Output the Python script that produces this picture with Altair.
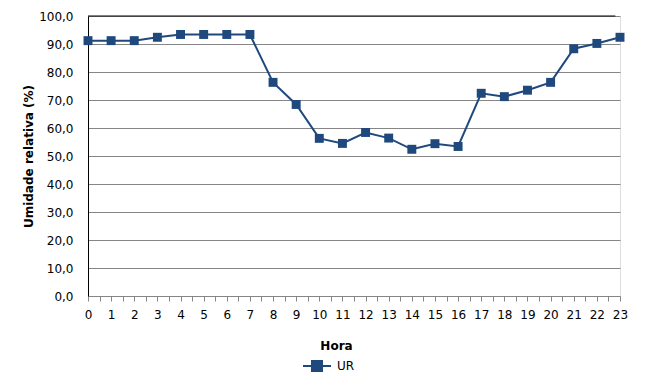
import altair as alt
import pandas as pd

hours = list(range(24))
ur = [91.2, 91.2, 91.2, 92.4, 93.4, 93.4, 93.4, 93.4, 76.3, 68.4, 56.3, 54.5,
      58.4, 56.4, 52.4, 54.4, 53.4, 72.4, 71.2, 73.5, 76.3, 88.3, 90.2, 92.4]
series = ["UR"] * 24

df = pd.DataFrame({"Hora": hours, "UR": ur, "serie": series})

COLOR = "#1F497D"
FONT = "DejaVu Sans"
half_ticks = [i / 2 for i in range(47)]

x_scale = alt.Scale(domain=[0, 23], nice=False, zero=False)
y_scale = alt.Scale(domain=[0, 100], nice=False)

x_axis = alt.Axis(
    values=half_ticks,
    labelExpr="datum.value % 1 == 0 ? format(datum.value, 'd') : ''",
    grid=False, domainColor="#868686", tickColor="#868686", tickSize=5,
    labelFont=FONT, labelFontSize=12, labelColor="#000000", labelPadding=8,
    labelFlush=False, labelOverlap=False,
    title="Hora", titleFont=FONT, titleFontSize=12, titleFontWeight="bold",
    titleColor="#000000", titleX=248, titleY=49, titleBaseline="middle",
)
y_axis = alt.Axis(
    values=list(range(0, 101, 10)),
    labelExpr="replace(format(datum.value, '.1f'), '.', ',')",
    grid=True, gridColor="#868686", gridWidth=1,
    domainColor="#000000", ticks=False, labelPadding=15, labelOverlap=False,
    labelFont=FONT, labelFontSize=12, labelColor="#000000",
    title="Umidade relativa (%)", titleFont=FONT, titleFontSize=12,
    titleFontWeight="bold", titleColor="#000000", titleX=-60, titleY=140,
    titleBaseline="middle", titleAlign="center", titleAngle=-90,
)

legend = alt.Legend(
    title=None, orient="none", legendX=214, legendY=335,
    symbolType="M-1,0H1M-0.36,-0.36H0.36V0.36H-0.36Z",
    symbolSize=784, symbolStrokeWidth=2, symbolFillColor=COLOR,
    symbolStrokeColor=COLOR, labelFont=FONT, labelFontSize=12,
    labelColor="#000000", labelOffset=5,
)

base = alt.Chart(df)
line = base.mark_line(strokeWidth=2, clip=False).encode(
    x=alt.X("Hora:Q", scale=x_scale, axis=x_axis),
    y=alt.Y("UR:Q", scale=y_scale, axis=y_axis),
    color=alt.Color("serie:N", scale=alt.Scale(domain=["UR"], range=[COLOR]), legend=legend),
)
points = base.mark_point(shape="square", filled=True, size=80, opacity=1, color=COLOR, clip=False).encode(
    x=alt.X("Hora:Q", scale=x_scale, axis=x_axis),
    y=alt.Y("UR:Q", scale=y_scale, axis=y_axis),
)
top = alt.Chart(pd.DataFrame({"a": [0]})).mark_rule(color="#000000", strokeWidth=1).encode(
    y=alt.Y(datum=100, scale=y_scale, axis=y_axis),
    x=alt.X(datum=0, scale=x_scale, axis=x_axis),
    x2=alt.datum(22.8),
)

chart = alt.layer(line, points, top).properties(
    width=532, height=280,
    autosize=alt.AutoSizeParams(type="none"),
    padding={"left": 80, "top": 8, "right": 34, "bottom": 83},
).configure_view(stroke="#868686", strokeWidth=1).configure(background="white")

chart.save("out.html", embed_options={"renderer": "svg", "actions": False})
